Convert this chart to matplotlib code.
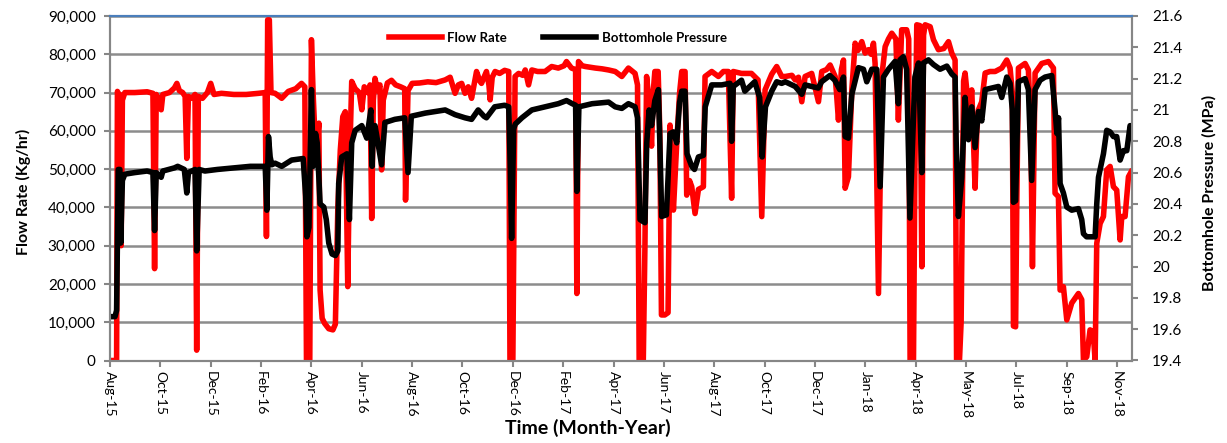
import numpy as np
import matplotlib
matplotlib.use('Agg')
import matplotlib.pyplot as plt
from matplotlib.ticker import FixedLocator, FuncFormatter

plt.rcParams['font.family'] = ['Lato', 'DejaVu Sans']

# flow rate, days since start (Aug-15) and thousand kg/hr
flow_day = [1, 8, 9, 10, 12, 13.5, 15, 18, 30, 45, 52, 54, 56, 60, 62, 64, 72, 78, 81, 84,
            88, 91, 93, 95, 99, 103, 105, 107, 112, 118, 122, 126, 135, 150, 165, 180, 188,
            189.5, 191, 193, 195,
            200, 208, 216, 225, 232, 236, 238, 242, 244, 246, 248, 250, 253, 254.5, 257, 260,
            265, 270, 273, 276, 279, 282, 285, 288, 290, 292.8, 297, 302, 305, 308, 312, 315,
            317, 319, 321, 324, 327, 329, 331, 336, 341, 346, 352, 357, 358, 361, 366, 375,
            385, 395,
            406, 412, 418, 422, 426, 430, 434, 438, 441, 444, 448, 450, 454, 456, 459, 460.5,
            463, 466.5, 472, 478, 483, 484.5, 488, 490.7, 495, 500, 503, 507, 511, 518, 527,
            535, 543, 550, 553, 559, 564, 565.5, 567.5, 572, 576, 588, 596, 604,
            612, 620, 628, 636, 639, 641, 646, 648, 650, 652, 656, 658, 660, 664, 666, 668,
            672, 676, 678.4, 680, 682.5, 686.5, 690, 692.6, 696.6, 698.6, 702, 704.7, 708.7,
            712.8, 718.8, 720.8, 728.9, 737, 743, 749, 753, 755, 765, 777, 785, 789.5, 793.5,
            801.6, 807.6, 813.7,
            818, 826, 830, 834, 838, 842, 850, 858.2, 862.2, 868, 872.3, 878.4, 880, 882.4,
            886, 888.5, 890.5, 894.5, 898.6, 902.6, 906, 910.7, 914.7, 918.8, 922, 924.8,
            926.8, 930.9, 934.9, 939, 943, 947, 952, 955, 959, 965, 967.5, 969.2, 973.3, 975,
            977.3, 981, 983.4, 985.5, 987.4, 993.5, 997.5, 1003.5, 1010, 1015.7, 1019.7,
            1023.7,
            1025.5, 1029, 1031, 1034, 1035.8, 1039.9, 1043.9, 1047.9, 1050, 1052, 1056,
            1060.1, 1066, 1072.2, 1080.2, 1086.3, 1090.3, 1093, 1094.4, 1097, 1098.4, 1100.4,
            1108.5, 1112.5, 1115.5, 1117.4, 1119, 1120.6, 1128.7, 1136.8, 1142.8, 1144.8,
            1148.9, 1150.9, 1154.9, 1159, 1165, 1173.1, 1177.1, 1179.2, 1183.2, 1187.2, 1191,
            1193.3, 1195.3, 1199.4, 1203.4, 1207.4, 1211.5, 1215.5, 1219.5, 1223.6, 1225.6,
            1229.6, 1233.7, 1237]
flow_k = [0, 0, 70.3, 69.5, 69.5, 30, 68, 70, 70, 70.2, 69.8, 24, 69.5, 68, 65.5, 69.5, 70,
          71.2, 72.4, 70.5, 70, 69, 52.8, 69, 68.5, 69.5, 2.7, 69, 68.5, 70, 72.4, 69.5, 69.8,
          69.5, 69.5, 69.8, 70, 32.4, 89, 89, 70,
          69.8, 68.5, 70.3, 71, 72.4, 71.5, 0, 0, 83.8, 70, 60, 55, 62, 18.4, 11, 9.7, 8.3, 8,
          9.5, 40, 55, 63.7, 65, 19.3, 50, 72.9, 71, 70, 65.5, 71.5, 70, 72, 37.1, 68, 73.7,
          70.5, 72, 49.8, 68, 72.5, 73.2, 72, 71.5, 71, 41.9, 70.5, 72.4, 72.5, 72.8, 72.6,
          73.3, 74, 69.8, 72, 72.4, 69.8, 71.5, 68.5, 72, 75.5, 73, 72.4, 74.5, 75.5, 72,
          68.1, 74, 75.5, 75, 75.8, 75.5, 0, 0, 74.2, 75, 74.5, 75.9, 72, 75.9, 75.5, 75.5,
          76.8, 76.4, 77, 78.1, 76.4, 76, 17.5, 78.1, 77, 76.8, 76.4, 76.2, 75.9,
          75.5, 74.2, 76.4, 75, 72, 0, 0, 30, 74.2, 69.8, 56, 70, 75.5, 75.5, 60, 11.9, 11.9,
          12.5, 61.5, 55, 39.3, 56.7, 70, 75.5, 75.5, 43.2, 47, 45.4, 38.4, 44.7, 45.4, 74.2,
          75.5, 74.2, 75.5, 75.5, 42.4, 75.5, 75, 75, 73.3, 37.6, 70.7, 74.8, 76.8, 74.2,
          74.2, 74.5, 73.3, 74, 67.6, 74.2, 75, 67.6, 75.5, 76, 77.2, 74.2, 70, 62.8, 76,
          78.5, 45, 48, 70.7, 82.9, 81, 83.3, 80.3, 81.2, 80, 82.9, 77.6, 17.5, 74.2, 82, 84,
          85.5, 84, 62.8, 86.4, 86.4, 84, 0, 0, 50, 87.7, 87.5, 24.5, 85, 87.7, 87.2, 83.8,
          81.2, 81.5, 83.3, 80.3, 78.5,
          0, 0, 10, 73, 75.1, 66.3, 70.7, 45, 60, 65.5, 67.6, 75.1, 75.5, 75.5, 76.4, 78.5,
          76.4, 70, 9, 8.8, 40, 76.4, 77.6, 75.9, 60, 24.5, 50, 75.1, 77.6, 78.1, 76.4, 43.7,
          42.8, 18.4, 19.3, 10.6, 15, 17.5, 15.9, 0, 1, 8, 7.5, 0, 30.6, 35.8, 37.6, 49.8,
          50.7, 45.4, 44.5, 31.5, 37.6, 37.6, 48, 49.3]

# bottomhole pressure, days since start and MPa
bhp_day = [0, 6, 8, 10, 12, 13, 15, 18, 30, 45, 52, 54, 56, 62, 64, 78, 82, 90, 93, 95, 103,
           105, 108, 115, 130, 150, 170, 188, 190, 192, 194, 196,
           200, 208, 220, 234, 237, 238.5, 241, 244, 246, 249, 251, 254.5, 259, 262, 265, 269,
           273, 276, 277, 280.7, 287, 290, 292.8, 297, 305, 311, 316, 317.5, 319, 321, 329,
           333, 345, 357, 361, 365, 382,
           406, 414, 418, 430, 438, 446, 453, 456, 466, 478, 483, 485, 486.5, 489, 491, 499,
           511, 527, 543, 553, 560, 564, 565.5, 568, 584, 604,
           612, 620, 628, 636, 639, 642, 648, 650.2, 653, 656, 660, 664.3, 666, 668.3, 674,
           678.4, 682.5, 686.5, 690, 692.6, 696.6, 699, 704.7, 708, 712.8, 718.8, 721, 728.9,
           741, 751, 753, 755, 765, 769, 781, 787, 790, 794, 801.6, 807.6, 813.7,
           818, 830, 838, 842, 858, 862, 872, 878, 884, 888.5, 890.5, 894.5, 898.6, 906.6,
           912.7, 916.7, 922.8, 928.8, 932.9, 936.9, 943, 951, 955, 957, 961, 965, 969, 975,
           979.4, 983.4, 985.4, 991.4, 997.5, 1005.5, 1013.7, 1019.7,
           1023.7, 1025, 1027.7, 1031.8, 1035.8, 1039.9, 1043.9, 1047.9, 1052, 1056, 1060.1,
           1068, 1076.2, 1080.2, 1086.3, 1090.3, 1093, 1094.4, 1097, 1100.4, 1108.5, 1112.5,
           1116.5, 1120.6, 1126.7, 1132.7, 1140.8, 1144.8, 1147, 1149, 1150.9, 1154.9, 1159,
           1165, 1173.1, 1177.1, 1179.2, 1183, 1193.3, 1195.3, 1197.4, 1203.4, 1207.4,
           1211.5, 1215.5, 1219.5, 1223.6, 1227.6, 1231.7, 1235.7, 1237.7]
bhp_mpa = [19.68, 19.68, 19.72, 20.62, 20.62, 20.15, 20.55, 20.59, 20.60, 20.61, 20.60, 20.23,
           20.60, 20.57, 20.61, 20.63, 20.64, 20.62, 20.47, 20.60, 20.62, 20.10, 20.62, 20.61,
           20.62, 20.63, 20.64, 20.64, 20.36, 20.83, 20.70, 20.65,
           20.66, 20.64, 20.68, 20.69, 20.45, 20.19, 20.25, 21.13, 20.64, 20.85, 20.79, 20.40,
           20.38, 20.30, 20.15, 20.08, 20.07, 20.10, 20.53, 20.70, 20.72, 20.30, 20.79, 20.87,
           20.90, 20.82, 21.00, 20.64, 20.88, 20.90, 20.65, 20.92, 20.94, 20.95, 20.60, 20.96,
           20.98,
           21.00, 20.98, 20.97, 20.95, 20.94, 21.00, 20.96, 20.95, 21.02, 21.03, 21.02, 20.60,
           20.18, 20.88, 20.91, 20.95, 21.00, 21.02, 21.04, 21.06, 21.04, 21.03, 20.48, 21.02,
           21.04, 21.05,
           21.02, 21.01, 21.04, 21.02, 20.95, 20.30, 20.28, 20.79, 21.00, 20.90, 21.06, 21.13,
           20.80, 20.32, 20.33, 20.85, 20.86, 20.79, 21.05, 21.12, 21.12, 20.72, 20.64, 20.62,
           20.70, 20.71, 21.02, 21.16, 21.16, 21.17, 20.80, 21.15, 21.19, 21.12, 21.18, 21.08,
           20.70, 21.02, 21.12, 21.18, 21.17,
           21.18, 21.15, 21.10, 21.16, 21.14, 21.18, 21.22, 21.19, 21.13, 21.21, 20.83, 20.82,
           21.10, 21.27, 21.26, 21.18, 21.26, 21.26, 20.51, 21.21, 21.26, 21.31, 21.04, 21.32,
           21.34, 21.26, 20.31, 21.21, 21.30, 20.60, 21.30, 21.32, 21.29, 21.26, 21.28, 21.23,
           21.21, 20.80, 20.32, 20.57, 21.08, 20.81, 21.02, 20.76, 20.99, 20.93, 21.13, 21.14,
           21.15, 21.08, 21.21, 21.17, 21.00, 20.41, 20.42, 21.18, 21.20, 21.13, 20.55, 21.13,
           21.19, 21.21, 21.22, 21.00, 20.85, 20.95, 20.53, 20.47, 20.38, 20.36, 20.37, 20.30,
           20.21, 20.19, 20.19, 20.40, 20.57, 20.72, 20.87, 20.86, 20.83, 20.83, 20.68, 20.74,
           20.74, 20.90, 20.88]

month_labels = ['Aug-15', 'Oct-15', 'Dec-15', 'Feb-16', 'Apr-16', 'Jun-16', 'Aug-16',
                'Oct-16', 'Dec-16', 'Feb-17', 'Apr-17', 'Jun-17', 'Aug-17', 'Oct-17',
                'Dec-17', 'Jan-18', 'Apr-18', 'May-18', 'Jul-18', 'Sep-18', 'Nov-18']
flow_ticks = [0, 10000, 20000, 30000, 40000, 50000, 60000, 70000, 80000, 90000]
bhp_ticks = ['19.4', '19.6', '19.8', '20', '20.2', '20.4', '20.6', '20.8', '21', '21.2',
             '21.4', '21.6']

axis_gray = '#868686'
grid_gray = '#8c8c8c'

fig = plt.figure(figsize=(12.27, 4.43), dpi=100)
ax = fig.add_axes([110 / 1227, 1 - 360.5 / 443, 1022 / 1227, 344.5 / 443])
ax2 = ax.twinx()

flow = np.array(flow_k) * 1000
l1, = ax.plot(flow_day, flow, color='#ff0000', lw=4.0, solid_joinstyle='round',
              label='Flow Rate')
l2, = ax2.plot(bhp_day, bhp_mpa, color='black', lw=4.0, solid_joinstyle='round',
               label='Bottomhole Pressure')

ax.set_xlim(0, 1238)
ax.set_ylim(0, 90000)
ax2.set_ylim(19.4, 21.6)

ax.xaxis.set_major_locator(FixedLocator(np.arange(len(month_labels)) * 61))
ax.set_xticklabels(month_labels, rotation=-90, fontsize=10)
ax.yaxis.set_major_locator(FixedLocator(flow_ticks))
ax.yaxis.set_major_formatter(FuncFormatter(lambda v, p: '{:,.0f}'.format(v)))
ax.tick_params(axis='y', labelsize=11, color=axis_gray, length=4.3, width=1.5, pad=6)
ax.tick_params(axis='x', color=axis_gray, length=4.3, width=1.5, pad=3)
ax2.yaxis.set_major_locator(FixedLocator([float(t) for t in bhp_ticks]))
ax2.set_yticklabels(bhp_ticks)
ax2.tick_params(axis='y', labelsize=11, color=axis_gray, length=4.3, width=1.5, pad=10)

ax.grid(axis='y', color=grid_gray, lw=1.8)
ax.set_axisbelow(True)

for a in (ax, ax2):
    for s in ('left', 'right', 'bottom'):
        a.spines[s].set_color(axis_gray)
        a.spines[s].set_linewidth(1.5)
    a.spines['top'].set_color('#4a7ebb')
    a.spines['top'].set_linewidth(1.5)

ax.set_xlabel('Time (Month-Year)', fontsize=14, fontweight='bold')
ax.xaxis.set_label_coords((588 - 110) / 1022, -0.17)
ax.set_ylabel('Flow Rate (Kg/hr)', fontsize=11.5, fontweight='bold')
ax.yaxis.set_label_coords(-0.077, 0.49)
ax2.set_ylabel('Bottomhole Pressure (MPa)', fontsize=11.5, fontweight='bold')
ax2.yaxis.set_label_coords(1.069, 0.486)

ax2.legend(handles=[l1, l2], loc='center', bbox_to_anchor=(0.438, 0.936), ncol=2,
           frameon=False, prop={'weight': 'bold', 'size': 9.5}, handlelength=4.0,
           handletextpad=0.4, columnspacing=2.8)

fig.savefig('out.png', dpi=100)
